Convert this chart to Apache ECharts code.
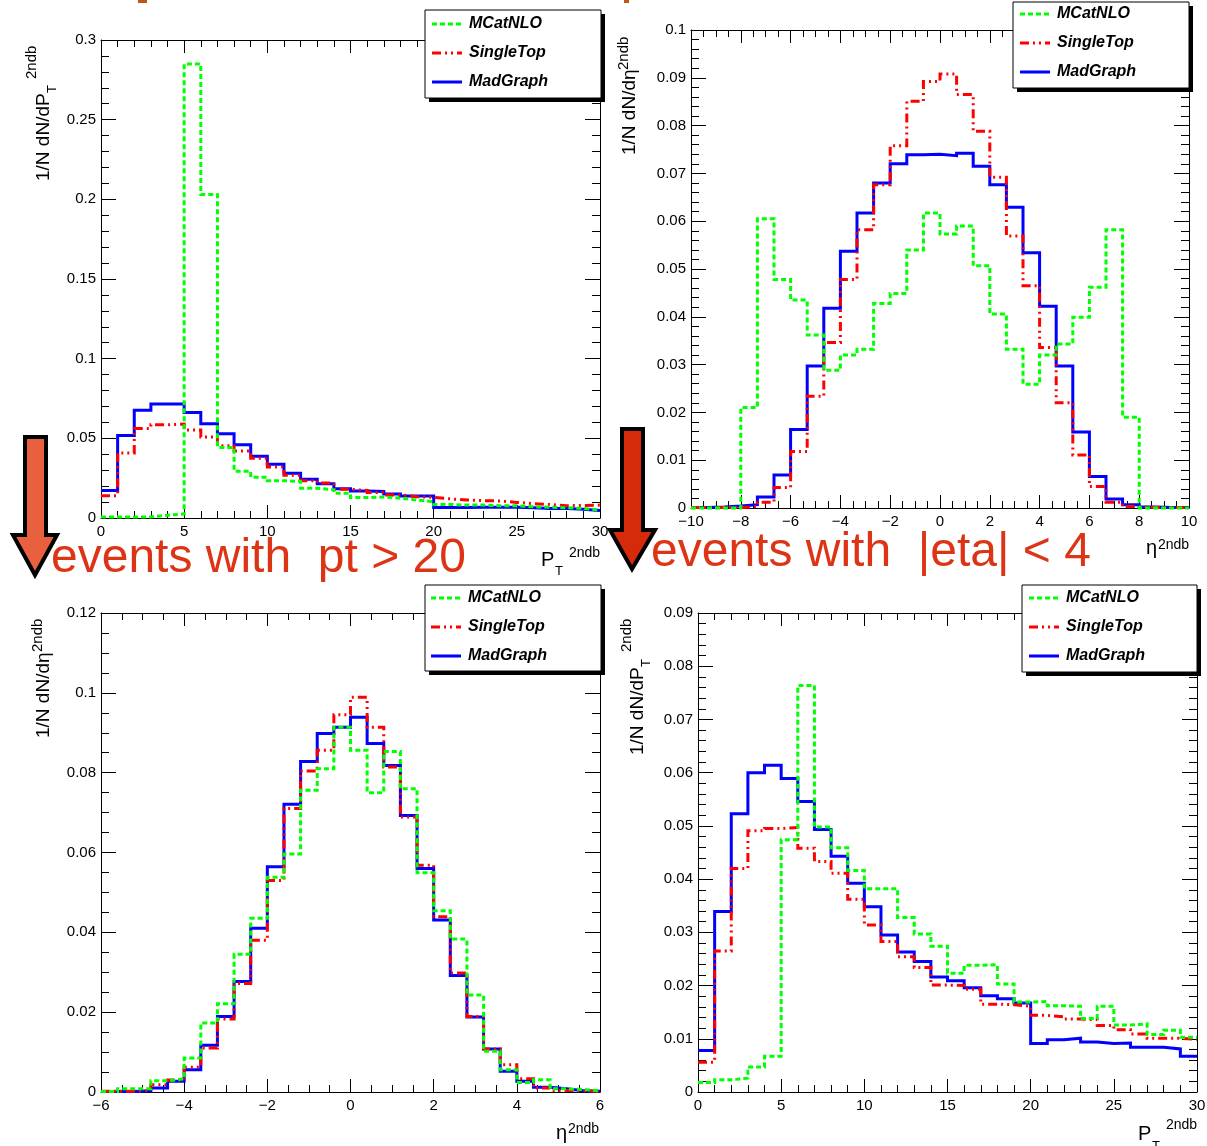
<!DOCTYPE html>
<html><head><meta charset="utf-8">
<script src="https://cdn.jsdelivr.net/npm/echarts@6/dist/echarts.min.js"></script>
<style>html,body{margin:0;padding:0;background:#fff}#c{width:1207px;height:1146px}</style>
</head><body><div id="c"></div>
<script>
// ---------------- data ----------------
const seriesNames = ['MCatNLO', 'SingleTop', 'MadGraph'];

// panel 1 : PT 2ndb (0..30, 30 bins)
const p1Range = [0, 30];
const p1MadGraph = [0.0172,0.0517,0.0677,0.0716,0.0716,0.0662,0.0592,0.0528,0.046,0.0388,0.0337,0.0281,0.0243,0.0215,0.0183,0.017,0.0166,0.0151,0.0138,0.0138,0.0066,0.0066,0.0068,0.0068,0.0068,0.0064,0.006,0.006,0.0055,0.0047];
const p1SingleTop = [0.014,0.0408,0.0562,0.0585,0.059,0.0552,0.0508,0.0454,0.042,0.0375,0.032,0.0268,0.0234,0.022,0.018,0.0173,0.016,0.0145,0.0134,0.013,0.012,0.0113,0.0109,0.0107,0.0098,0.009,0.0085,0.0077,0.0079,0.0081];
const p1MCatNLO = [0.0006,0.0006,0.0007,0.0017,0.0026,0.285,0.203,0.0443,0.0294,0.0256,0.0234,0.023,0.0187,0.0177,0.0155,0.0128,0.0132,0.0124,0.0113,0.0102,0.0085,0.0081,0.0081,0.0077,0.0077,0.007,0.0068,0.0064,0.006,0.0051];

// panel 2 : eta 2ndb (-10..10, 30 bins)
const p2Range = [-10, 10];
const p2MadGraph = [0.0001,0.0002,0.0004,0.0007,0.0023,0.0069,0.0164,0.0297,0.0418,0.0537,0.0617,0.068,0.072,0.0739,0.074,0.0737,0.0742,0.0715,0.0676,0.0629,0.0534,0.0422,0.0297,0.0159,0.0066,0.0019,0.0007,0.0002,0.0001,0.0001];
const p2SingleTop = [0.0001,0.0001,0.0001,0.0003,0.0012,0.0043,0.0118,0.0234,0.0346,0.0478,0.0582,0.0676,0.0758,0.0851,0.0892,0.0908,0.0865,0.0788,0.0692,0.0569,0.0465,0.0336,0.022,0.0111,0.0045,0.0012,0.0003,0.0001,0.0001,0.0001];
const p2MCatNLO = [0,0,0,0.021,0.0605,0.0478,0.0435,0.0362,0.0288,0.032,0.0332,0.0428,0.0449,0.054,0.0617,0.0573,0.059,0.0507,0.0406,0.0332,0.0259,0.032,0.0343,0.0399,0.0462,0.0582,0.019,0,0,0];

// panel 3 : eta 2ndb, pt > 20 (-6..6, 30 bins)
const p3Range = [-6, 6];
const p3MadGraph = [0.0001,0.0001,0.0003,0.001,0.0027,0.0056,0.0117,0.0189,0.0277,0.041,0.0564,0.0721,0.0828,0.0898,0.0914,0.0939,0.0873,0.0818,0.0693,0.056,0.0431,0.0292,0.0188,0.0108,0.0052,0.0027,0.0012,0.0008,0.0003,0.0002];
const p3SingleTop = [0.0002,0.0002,0.0004,0.0018,0.003,0.0062,0.011,0.0183,0.0272,0.038,0.053,0.071,0.0804,0.0856,0.0945,0.0989,0.0914,0.0814,0.0689,0.0568,0.0439,0.0298,0.0189,0.0108,0.0068,0.0033,0.001,0.0004,0.0003,0.0002];
const p3MCatNLO = [0.0001,0.0008,0.0008,0.0028,0.0033,0.0085,0.0173,0.0221,0.0345,0.0435,0.0538,0.0596,0.0756,0.081,0.0914,0.0856,0.075,0.0853,0.076,0.0549,0.0454,0.0383,0.0243,0.0102,0.0056,0.0024,0.0031,0.0008,0.0006,0.0003];

// panel 4 : PT 2ndb, |eta| < 4 (0..30, 30 bins)
const p4Range = [0, 30];
const p4MadGraph = [0.0078,0.0339,0.0523,0.06,0.0614,0.0589,0.0546,0.0493,0.0443,0.0392,0.0348,0.0295,0.0263,0.0245,0.0216,0.0209,0.0196,0.0181,0.0175,0.0167,0.0091,0.0098,0.0101,0.0094,0.0091,0.0092,0.0084,0.0084,0.0081,0.0067];
const p4SingleTop = [0.0056,0.0265,0.042,0.0491,0.0495,0.0497,0.0458,0.0433,0.0411,0.0362,0.0314,0.0283,0.0254,0.0234,0.0201,0.02,0.0193,0.0165,0.0164,0.0161,0.0144,0.0141,0.0137,0.0136,0.0125,0.0117,0.0109,0.0101,0.0101,0.0099];
const p4MCatNLO = [0.0018,0.0023,0.0026,0.0047,0.0067,0.0474,0.0764,0.0498,0.0459,0.0416,0.0382,0.0382,0.0328,0.0297,0.0274,0.0223,0.0238,0.0239,0.0203,0.0169,0.017,0.0162,0.0161,0.0138,0.0161,0.0126,0.0128,0.0108,0.0116,0.0103];

// axis scales: [min, max, interval, minor divisions]
const p1X = [0, 30, 5, 5],   p1Y = [0, 0.3, 0.05, 5];
const p2X = [-10, 10, 2, 4], p2Y = [0, 0.1, 0.01, 5];
const p3X = [-6, 6, 2, 4],   p3Y = [0, 0.12, 0.02, 4];
const p4X = [0, 30, 5, 5],   p4Y = [0, 0.09, 0.01, 5];

const annotation1 = 'events with  pt > 20';
const annotation2 = 'events with  |eta| < 4';

// ---------------- build ----------------
const FONT = 'Liberation Sans, Arial, sans-serif';
function hist(range, vals) {
  const w = (range[1] - range[0]) / vals.length;
  const d = vals.map((v, i) => [range[0] + i * w, v]);
  d.push([range[1], vals[vals.length - 1]]);
  return d;
}
const panels = [
  {range: p1Range, x: p1X, y: p1Y, vals: [p1MCatNLO, p1SingleTop, p1MadGraph], grid: {left: 101, top: 40, width: 499, height: 478}},
  {range: p2Range, x: p2X, y: p2Y, vals: [p2MCatNLO, p2SingleTop, p2MadGraph], grid: {left: 691, top: 30, width: 498, height: 478}},
  {range: p3Range, x: p3X, y: p3Y, vals: [p3MCatNLO, p3SingleTop, p3MadGraph], grid: {left: 101, top: 613, width: 499, height: 479}},
  {range: p4Range, x: p4X, y: p4Y, vals: [p4MCatNLO, p4SingleTop, p4MadGraph], grid: {left: 698, top: 613, width: 499, height: 479}}
];
const styles = {
  MCatNLO:   {color: '#00ff00', type: [5, 3]},
  SingleTop: {color: '#ff0000', type: [9, 4, 2, 4, 2, 4]},
  MadGraph:  {color: '#0000ff', type: 'solid'}
};
function axis(kind, gi, sc, pos, labels) {
  const isX = kind === 'x';
  return {
    type: 'value', gridIndex: gi, min: sc[0], max: sc[1], interval: sc[2], position: pos,
    axisLine: {show: true, onZero: false, lineStyle: {color: '#000', width: 1}},
    axisTick: {show: true, inside: true, length: isX ? 13 : 15, lineStyle: {color: '#000', width: 1}},
    minorTick: {show: true, splitNumber: sc[3], length: isX ? 7 : 8, lineStyle: {color: '#000', width: 1}},
    splitLine: {show: false}, minorSplitLine: {show: false},
    axisLabel: {show: labels, color: '#000', fontSize: 15, fontFamily: FONT, margin: isX ? 6 : 5,
      formatter: isX ? (v => String(v).replace('-', '\u2212')) : undefined}
  };
}
const grids = [], xAxes = [], yAxes = [], series = [];
panels.forEach((p, gi) => {
  grids.push(Object.assign({show: false, outerBoundsMode: 'none', containLabel: false}, p.grid));
  xAxes.push(axis('x', gi, p.x, 'bottom', true));
  yAxes.push(axis('y', gi, p.y, 'left', true));
});
panels.forEach((p, gi) => {
  xAxes.push(axis('x', gi, p.x, 'top', false));
  yAxes.push(axis('y', gi, p.y, 'right', false));
});
panels.forEach((p, gi) => {
  [2, 1, 0].forEach(si => {
    const nm = seriesNames[si];
    series.push({
      type: 'line', name: nm, xAxisIndex: gi, yAxisIndex: gi, step: 'end',
      data: hist(p.range, p.vals[si]), symbol: 'none', showSymbol: false, clip: false,
      animation: false, silent: true,
      lineStyle: {color: styles[nm].color, width: 3, type: styles[nm].type, join: 'miter', cap: 'butt'},
      itemStyle: {color: styles[nm].color}
    });
  });
});

const graphics = [];
// legend boxes with ROOT-like shadow, and entries
const legendBoxes = [[425, 10, 176, 88], [1013, 2, 176, 86], [425, 585, 176, 86], [1022, 585, 175, 87]];
const legendRows = [[432, 24], [1020, 14], [431, 598], [1029, 598]];
legendBoxes.forEach((b, i) => {
  graphics.push({type: 'rect', z: 3, shape: {x: b[0] + 4, y: b[1] + 4, width: b[2], height: b[3]}, style: {fill: '#000'}});
  graphics.push({type: 'rect', z: 3, shape: {x: b[0], y: b[1], width: b[2], height: b[3]}, style: {fill: '#fff', stroke: '#000', lineWidth: 1}});
  const r = legendRows[i];
  seriesNames.forEach((nm, k) => {
    const yy = r[1] + k * 29;
    const st = styles[nm];
    graphics.push({type: 'line', z: 4, shape: {x1: r[0], y1: yy, x2: r[0] + 30, y2: yy},
      style: {stroke: st.color, lineWidth: 3, lineDash: Array.isArray(st.type) ? st.type : null}});
    graphics.push({type: 'text', z: 4, x: r[0] + 37, y: yy,
      style: {text: nm, font: 'italic bold 16px ' + FONT, fill: '#000', textAlign: 'left', textVerticalAlign: 'middle'}});
  });
});
function txt(t, x, y, size, rot, color) {
  return {type: 'text', x: x, y: y, rotation: rot || 0, z: 5,
    style: {text: t, font: size + 'px ' + FONT, fill: color || '#000', textAlign: 'left', textVerticalAlign: 'middle'}};
}
const R = Math.PI / 2;
// y-axis titles
graphics.push(txt('1/N dN/dP', 44, 181, 19, R));
graphics.push(txt('T', 52, 93, 13, R));
graphics.push(txt('2ndb', 32, 79, 15, R));
graphics.push(txt('1/N dN/d\u03B7', 630, 155, 19, R));
graphics.push(txt('2ndb', 624, 70, 15, R));
graphics.push(txt('1/N dN/d\u03B7', 44, 738, 19, R));
graphics.push(txt('2ndb', 38, 652, 15, R));
graphics.push(txt('1/N dN/dP', 638, 755, 19, R));
graphics.push(txt('T', 646, 667, 13, R));
graphics.push(txt('2ndb', 627, 652, 15, R));
// x-axis titles
graphics.push(txt('P', 541, 560, 20, 0));
graphics.push(txt('T', 555, 571, 13, 0));
graphics.push(txt('2ndb', 569, 553, 14, 0));
graphics.push(txt('\u03B7', 1146, 548, 20, 0));
graphics.push(txt('2ndb', 1158, 545, 14, 0));
graphics.push(txt('\u03B7', 556, 1133, 20, 0));
graphics.push(txt('2ndb', 568, 1129, 14, 0));
graphics.push(txt('P', 1138, 1134, 20, 0));
graphics.push(txt('T', 1152, 1146, 13, 0));
graphics.push(txt('2ndb', 1166, 1125, 14, 0));
// arrows
graphics.push({type: 'polygon', z: 6, shape: {points: [[25,437],[46,437],[46,535],[57,535],[35,575],[13,535],[25,535]]},
  style: {fill: '#e9603e', stroke: '#000', lineWidth: 4, lineJoin: 'miter', miterLimit: 10}});
graphics.push({type: 'polygon', z: 6, shape: {points: [[622,429],[643,429],[643,530],[655,530],[632,569],[610,530],[622,530]]},
  style: {fill: '#d62b0a', stroke: '#000', lineWidth: 4, lineJoin: 'miter', miterLimit: 10}});
// annotations
graphics.push(txt(annotation1, 51, 559, 48, 0, '#dc3414'));
graphics.push(txt(annotation2, 651, 553, 48, 0, '#dc3414'));
// cropped header fragments
graphics.push({type: 'rect', z: 5, shape: {x: 138, y: 0, width: 9, height: 3}, style: {fill: '#c0561c'}});
graphics.push({type: 'rect', z: 5, shape: {x: 624, y: 0, width: 5, height: 3}, style: {fill: '#c0561c'}});

const chart = echarts.init(document.getElementById('c'), null, {renderer: 'canvas', width: 1207, height: 1146});
chart.setOption({
  backgroundColor: '#fff', animation: false,
  grid: grids, xAxis: xAxes, yAxis: yAxes, series: series,
  graphic: {elements: graphics}
});
</script></body></html>
